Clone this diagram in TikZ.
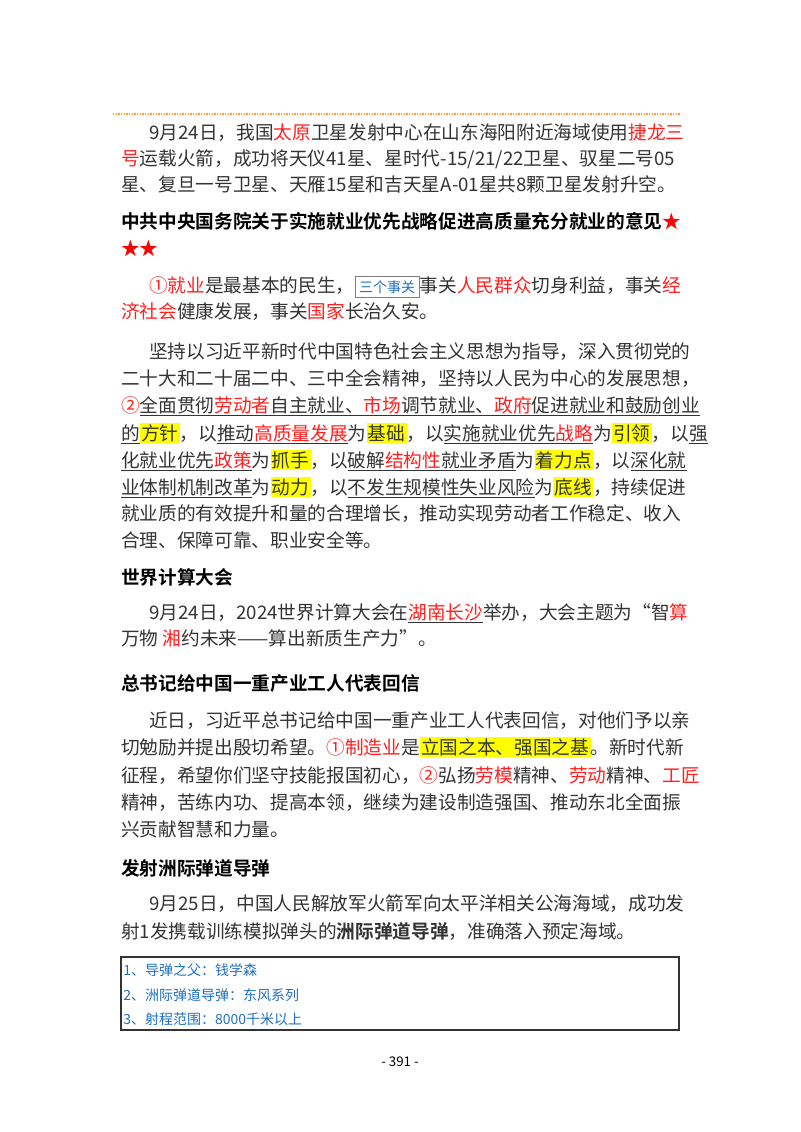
\documentclass[tikz,border=0pt]{standalone}
\usepackage{fontspec}
\setmainfont{Noto Sans CJK SC}
\newfontfamily\cjkb{Noto Sans CJK SC Bold}
\definecolor{txt}{HTML}{333333}
\definecolor{hred}{HTML}{FF2020}
\definecolor{hyel}{HTML}{FFFF00}
\definecolor{lblue}{HTML}{1F6FC0}
\newcommand{\R}[1]{\textcolor{hred}{#1}}
\newcommand{\HL}[1]{{\setlength{\fboxsep}{1pt}\colorbox{hyel}{#1}}}
\newcommand{\UL}[1]{\underline{#1}}
\begin{document}
\begin{tikzpicture}[x=0.75pt,y=-0.75pt,
  ln/.style={anchor=base west,inner sep=0pt,font=\fontsize{14pt}{14pt}\selectfont,text=txt},
  hd/.style={anchor=base west,inner sep=0pt,font=\fontsize{14pt}{14pt}\cjkb,text=black},
  bx/.style={anchor=base west,inner sep=0pt,font=\fontsize{10.5pt}{10.5pt}\selectfont,text=lblue}]
\useasboundingbox (0,0) rectangle (800,1132);
\draw[orange!80,densely dotted,line width=1pt] (113,114) -- (680,114);
% P1
\node[ln] (a1) at (149,139) {9月24日，我国\R{太原}卫星发射中心在山东海阳附近海域使用\R{捷龙三}};
\node[ln] (a2) at (121,165) {\R{号}运载火箭，成功将天仪41星、星时代-15/21/22卫星、驭星二号05};
\node[ln] (a3) at (121,191) {星、复旦一号卫星、天雁15星和吉天星A-01星共8颗卫星发射升空。};
\node[hd] (h1) at (121,228) {中共中央国务院关于实施就业优先战略促进高质量充分就业的意见\textcolor{red}{★}};
\node[hd] (h1b) at (121,255) {\textcolor{red}{★★}};
\node[ln] (b1) at (149,292) {\R{①就业}是最基本的民生，\fcolorbox{gray}{white}{\fontsize{10.5pt}{10.5pt}\selectfont\textcolor{lblue}{三个事关}}事关\R{人民群众}切身利益，事关\R{经}};
\node[ln] (b2) at (121,318) {\R{济社会}健康发展，事关\R{国家}长治久安。};
% P3
\node[ln] (c1) at (149,358) {坚持以习近平新时代中国特色社会主义思想为指导，深入贯彻党的};
\node[ln] (c2) at (121,385) {二十大和二十届二中、三中全会精神，坚持以人民为中心的发展思想，};
\node[ln] (c3) at (121,412) {\R{②}\UL{全面贯彻\R{劳动者}自主就业、\R{市场}调节就业、\R{政府}促进就业和鼓励创业}};
\node[ln] (c4) at (121,440) {\UL{的}\HL{方针}，以\UL{推动\R{高质量发展}}为\HL{基础}，以\UL{实施就业优先\R{战略}}为\HL{引领}，以\UL{强}};
\node[ln] (c5) at (121,467) {\UL{化就业优先\R{政策}}为\HL{抓手}，以\UL{破解\R{结构性}就业矛盾}为\HL{着力点}，以\UL{深化就}};
\node[ln] (c6) at (121,494) {\UL{业体制机制改革}为\HL{动力}，以\UL{不发生规模性失业风险}为\HL{底线}，持续促进};
\node[ln] (c7) at (121,520) {就业质的有效提升和量的合理增长，推动实现劳动者工作稳定、收入};
\node[ln] (c8) at (121,547) {合理、保障可靠、职业安全等。};
\node[hd] (h2) at (121,584) {世界计算大会};
\node[ln] (d1) at (149,619) {9月24日，2024世界计算大会在\UL{\R{湖南长沙}}举办，大会主题为“智\R{算}};
\node[ln] (d2) at (121,645) {万物 \R{湘}约未来——算出新质生产力”。};
\node[hd] (h3) at (121,690) {总书记给中国一重产业工人代表回信};
\node[ln] (e1) at (149,727) {近日，习近平总书记给中国一重产业工人代表回信，对他们予以亲};
\node[ln] (e2) at (121,754) {切勉励并提出殷切希望。\R{①制造业}是\HL{立国之本、强国之基}。新时代新};
\node[ln] (e3) at (121,782) {征程，希望你们坚守技能报国初心，\R{②}弘扬\R{劳模}精神、\R{劳动}精神、\R{工匠}};
\node[ln] (e4) at (121,809) {精神，苦练内功、提高本领，继续为建设制造强国、推动东北全面振};
\node[ln] (e5) at (121,836) {兴贡献智慧和力量。};
\node[hd] (h4) at (121,875) {发射洲际弹道导弹};
\node[ln] (f1) at (149,910) {9月25日，中国人民解放军火箭军向太平洋相关公海海域，成功发};
\node[ln] (f2) at (121,938) {射1发携载训练模拟弹头的{\cjkb 洲际弹道导弹}，准确落入预定海域。};
\draw[black!80,line width=0.8pt] (121,957) rectangle (679,1030);
\node[bx] (g1) at (123,975) {1、导弹之父：钱学森};
\node[bx] (g2) at (123,1000) {2、洲际弹道导弹：东风系列};
\node[bx] (g3) at (123,1024) {3、射程范围：8000千米以上};
\node[anchor=base,inner sep=0pt,font=\fontsize{10pt}{10pt}\selectfont] (pg) at (400,1066) {- 391 -};
\end{tikzpicture}
\end{document}
